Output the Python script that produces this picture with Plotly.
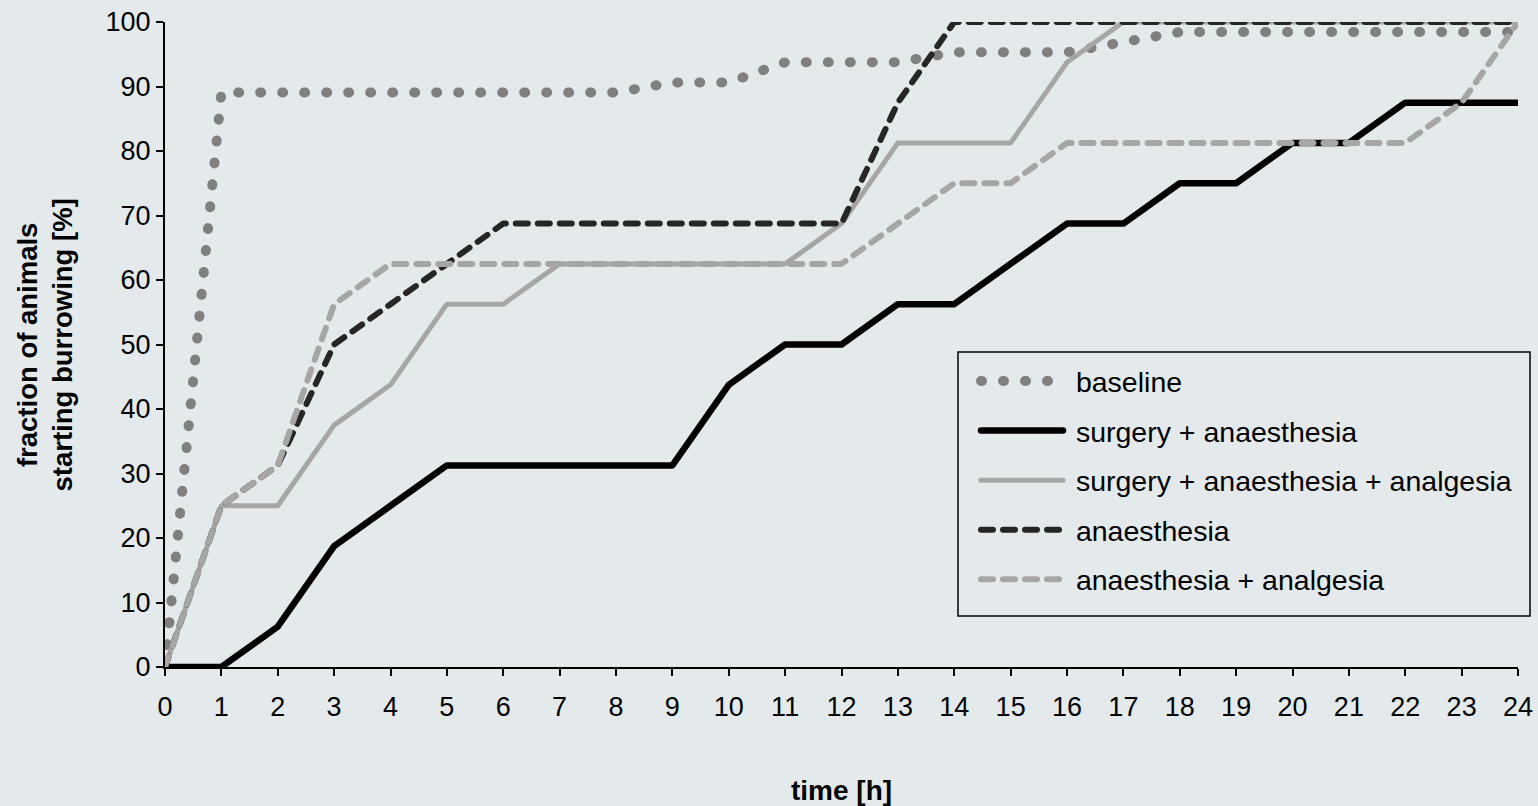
import plotly.graph_objects as go

hours = list(range(0, 25))

baseline = [0, 89.06, 89.06, 89.06, 89.06, 89.06, 89.06, 89.06, 89.06, 90.63, 90.63,
            93.75, 93.75, 93.75, 95.31, 95.31, 95.31, 96.88, 98.44, 98.44, 98.44,
            98.44, 98.44, 98.44, 98.44]
surgery_anaesthesia = [0, 0, 6.25, 18.75, 25, 31.25, 31.25, 31.25, 31.25, 31.25, 43.75,
                       50, 50, 56.25, 56.25, 62.5, 68.75, 68.75, 75, 75, 81.25, 81.25,
                       87.5, 87.5, 87.5]
surgery_anaesthesia_analgesia = [0, 25, 25, 37.5, 43.75, 56.25, 56.25, 62.5, 62.5, 62.5,
                                 62.5, 62.5, 68.75, 81.25, 81.25, 81.25, 93.75, 100, 100,
                                 100, 100, 100, 100, 100, 100]
anaesthesia = [0, 25, 31.25, 50, 56.25, 62.5, 68.75, 68.75, 68.75, 68.75, 68.75, 68.75,
               68.75, 87.5, 100, 100, 100, 100, 100, 100, 100, 100, 100, 100, 100]
anaesthesia_analgesia = [0, 25, 31.25, 56.25, 62.5, 62.5, 62.5, 62.5, 62.5, 62.5, 62.5,
                         62.5, 62.5, 68.75, 75, 75, 81.25, 81.25, 81.25, 81.25, 81.25,
                         81.25, 81.25, 87.5, 100]

series_names = ["baseline", "surgery + anaesthesia", "surgery + anaesthesia + analgesia",
                "anaesthesia", "anaesthesia + analgesia"]
series_values = [baseline, surgery_anaesthesia, surgery_anaesthesia_analgesia,
                 anaesthesia, anaesthesia_analgesia]
styles = [
    dict(color="#808080", width=10, dash="1px,21px"),
    dict(color="#000000", width=6.5, dash="solid"),
    dict(color="#a6a6a6", width=5, dash="solid"),
    dict(color="#262626", width=6, dash="12px,10px"),
    dict(color="#a6a6a6", width=6, dash="12px,10px"),
]

x_ticks = list(range(0, 25))
y_ticks = list(range(0, 101, 10))

BG = "#e4eaec"
FONT = "Liberation Sans, Arial, sans-serif"

L, R, T, B = 165, 20, 22, 139
PW, PH = 1538 - L - R, 806 - T - B


def px_x(px):
    return (px - L) / PW


def px_y(py):
    return (806 - B - py) / PH


fig = go.Figure()
for i, (name, vals, st) in enumerate(zip(series_names, series_values, styles)):
    fig.add_trace(go.Scatter(x=hours, y=vals, mode="lines", name="\u00a0" + name,
                             legendgroup=f"g{i}", line=st))

axis_common = dict(showgrid=False, zeroline=False, showline=True, linecolor="black",
                   linewidth=2, ticks="outside", ticklen=7, tickwidth=2, tickcolor="black",
                   tickfont=dict(size=27), automargin=False)

fig.update_layout(
    width=1538, height=806,
    paper_bgcolor=BG, plot_bgcolor=BG,
    margin=dict(l=L, r=R, t=T, b=B, autoexpand=False),
    font=dict(family=FONT, size=27, color="black"),
    showlegend=True,
    legend=dict(x=px_x(976), y=px_y(356), xanchor="left", yanchor="top",
                bgcolor="rgba(0,0,0,0)", borderwidth=0,
                font=dict(size=28.5, family=FONT), itemwidth=82, tracegroupgap=9.5),
    xaxis=dict(range=[0, 24], tickvals=x_ticks, ticktext=[str(v) for v in x_ticks],
               ticklabelstandoff=8, **axis_common),
    yaxis=dict(range=[0, 100], tickvals=y_ticks, ticktext=[str(v) for v in y_ticks],
               **axis_common),
    shapes=[dict(type="rect", xref="paper", yref="paper", x0=px_x(958), x1=px_x(1530),
                 y0=px_y(616), y1=px_y(352), line=dict(color="black", width=1.5),
                 fillcolor=BG, layer="above")],
    annotations=[
        dict(text="<b>time [h]</b>", xref="paper", yref="paper", x=0.5, y=px_y(790),
             xanchor="center", yanchor="middle", showarrow=False, font=dict(size=28)),
        dict(text="<b>fraction of animals<br>starting burrowing [%]</b>", xref="paper",
             yref="paper", x=px_x(45), y=0.5, xanchor="center", yanchor="middle",
             textangle=-90, showarrow=False, font=dict(size=27.5)),
    ],
)

post = """
document.body.style.margin = '0';
document.body.style.padding = '0';
document.body.style.overflow = 'hidden';
var s = document.createElement('style');
s.innerHTML = '.js-line { stroke-linecap: round !important; stroke-linejoin: round !important; } .cartesianlayer .plot { clip-path: none !important; }';
document.head.appendChild(s);
"""
fig.write_html("out.html", post_script=post, config={"displayModeBar": False})
